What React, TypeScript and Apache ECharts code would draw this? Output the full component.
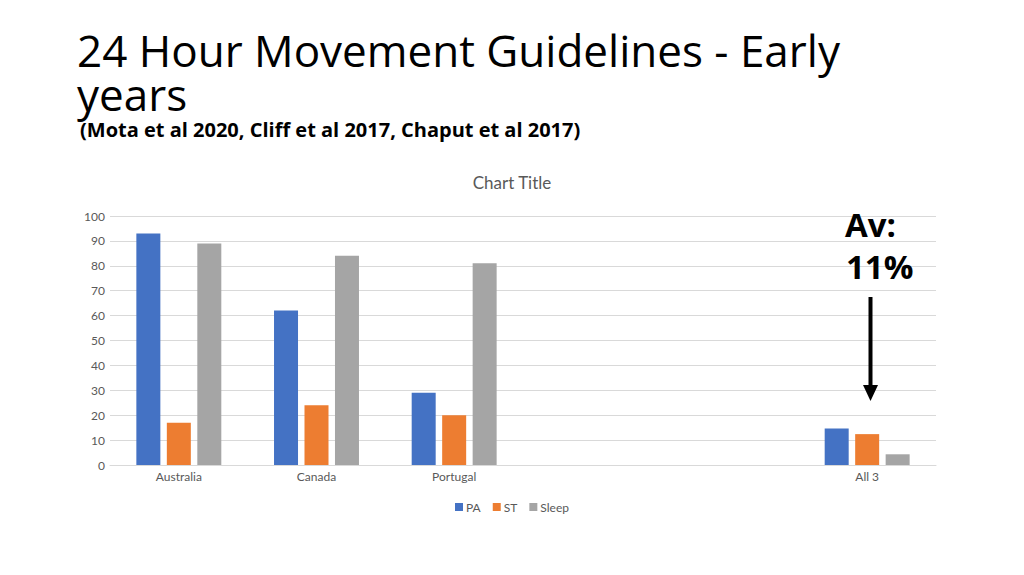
import React, { useEffect, useRef } from "react";
import * as echarts from "echarts";

const categories = ["Australia", "Canada", "Portugal", "", "", "All 3"];
const paValues = [93, 62, 29, null, null, 14.7];
const stValues = [17, 24, 20, null, null, 12.4];
const sleepValues = [89, 84, 81, null, null, 4.3];
const yTicks = { min: 0, max: 100, interval: 10 };

export default function App() {
  const ref = useRef<HTMLDivElement>(null);
  useEffect(() => {
    document.body.style.margin = "0";
    const chart = echarts.init(ref.current!, null, { renderer: "svg" });
    chart.setOption({
      animation: false,
      backgroundColor: "#ffffff",
      title: [
        {
          text: "24 Hour Movement Guidelines - Early\nyears",
          left: 72,
          top: 23,
          textStyle: {
            fontFamily: "Open Sans",
            fontWeight: "normal",
            fontSize: 44,
            lineHeight: 44,
            color: "#000000",
          },
        },
        {
          text: "(Mota et al 2020, Cliff et al 2017, Chaput et al 2017)",
          left: 75,
          top: 114,
          textStyle: {
            fontFamily: "Open Sans",
            fontWeight: "bold",
            fontSize: 20,
            color: "#000000",
          },
        },
        {
          text: "Chart Title",
          left: "center",
          top: 169,
          textStyle: {
            fontFamily: "Lato",
            fontWeight: "normal",
            fontSize: 17,
            color: "#595959",
          },
        },
      ],
      legend: {
        bottom: 57,
        left: "center",
        itemWidth: 8,
        itemHeight: 8,
        itemGap: 12,
        icon: "rect",
        textStyle: { fontFamily: "Lato", fontSize: 12, color: "#595959", padding: [0, 0, 0, -2] },
        data: ["PA", "ST", "Sleep"],
      },
      grid: { left: 110, right: 88, top: 216, bottom: 110, containLabel: false },
      xAxis: {
        type: "category",
        data: categories,
        axisLine: { lineStyle: { color: "#d9d9d9" } },
        axisTick: { show: false },
        axisLabel: { fontFamily: "Lato", fontSize: 12, color: "#595959", margin: 5, interval: 0 },
      },
      yAxis: {
        type: "value",
        min: yTicks.min,
        max: yTicks.max,
        interval: yTicks.interval,
        axisLine: { show: false },
        axisTick: { show: false },
        splitLine: { lineStyle: { color: "#d9d9d9" } },
        axisLabel: { fontFamily: "Lato", fontSize: 12, color: "#595959", margin: 5 },
      },
      series: [
        { name: "PA", type: "bar", data: paValues, itemStyle: { color: "#4472c4" }, barWidth: 24, barGap: "27%" },
        { name: "ST", type: "bar", data: stValues, itemStyle: { color: "#ed7d31" }, barWidth: 24, barGap: "27%" },
        { name: "Sleep", type: "bar", data: sleepValues, itemStyle: { color: "#a5a5a5" }, barWidth: 24, barGap: "27%" },
      ],
      graphic: [
        {
          type: "text",
          left: 845,
          top: 208,
          z: 100,
          style: { text: "Av:", font: "bold 33px 'Open Sans'", fill: "#000000" },
        },
        {
          type: "text",
          left: 846,
          top: 250,
          z: 100,
          style: { text: "11%", font: "bold 33px 'Open Sans'", fill: "#000000" },
        },
        {
          type: "line",
          z: 100,
          shape: { x1: 870.5, y1: 297, x2: 870.5, y2: 388 },
          style: { stroke: "#000000", lineWidth: 4 },
        },
        {
          type: "polygon",
          z: 100,
          shape: { points: [[863, 385], [878, 385], [870.5, 401]] },
          style: { fill: "#000000" },
        },
      ],
    });
    return () => chart.dispose();
  }, []);
  return <div ref={ref} style={{ width: 1024, height: 575 }} />;
}
